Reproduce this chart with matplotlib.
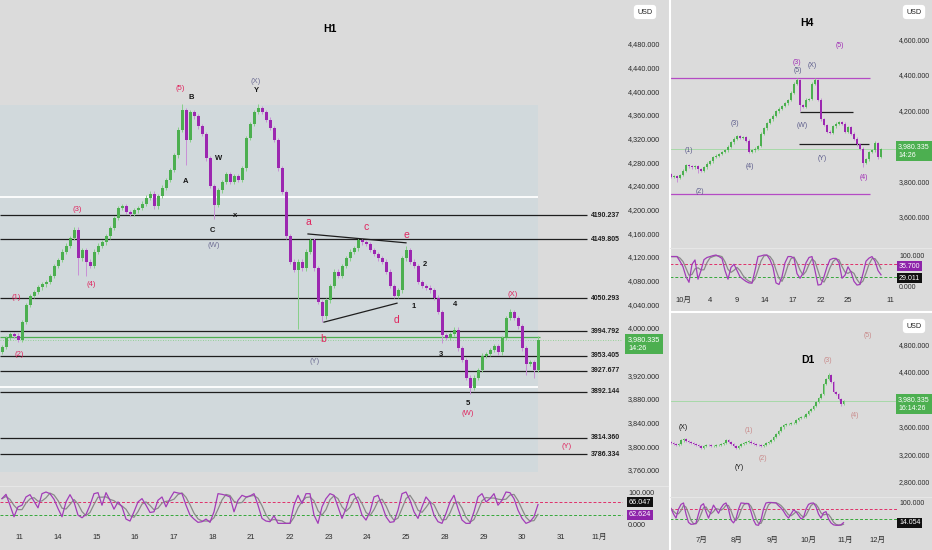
import numpy as np
import pandas as pd
import matplotlib
matplotlib.use("Agg")
import matplotlib.pyplot as plt
from matplotlib.patches import Rectangle

plt.rcParams['font.family'] = ['Liberation Sans', 'Noto Sans CJK JP']

# ---------------- DATA ----------------
# H1 panel (one value per ~2h bar)
h1_close = [3968, 3983, 3990, 3987, 3980, 4010, 4039, 4054, 4061, 4069,
            4074, 4078, 4088, 4105, 4115, 4129, 4139, 4152, 4166, 4118,
            4132, 4112, 4105, 4129, 4139, 4145, 4155, 4169, 4186, 4203,
            4206, 4196, 4193, 4199, 4203, 4210, 4220, 4227, 4206, 4223,
            4237, 4250, 4267, 4292, 4335, 4368, 4318, 4365, 4358, 4341,
            4328, 4287, 4240, 4208, 4233, 4247, 4260, 4247, 4257, 4250,
            4270, 4321, 4345, 4365, 4372, 4365, 4352, 4338, 4318, 4270,
            4230, 4155, 4112, 4098, 4112, 4101, 4129, 4149, 4101, 4044,
            4020, 4047, 4071, 4095, 4088, 4105, 4118, 4129, 4135, 4149,
            4145, 4142, 4132, 4125, 4118, 4112, 4095, 4071, 4054, 4064,
            4118, 4132, 4112, 4105, 4078, 4071, 4068, 4064, 4051, 4027,
            3988, 3983, 3990, 3997, 3966, 3946, 3916, 3899, 3916, 3929,
            3953, 3956, 3963, 3969, 3959, 3983, 4017, 4027, 4017, 4003,
            3966, 3939, 3942, 3929, 3980.335]
h1_first_open = 3960
h1_long_lows = {19: 4090, 21: 4088, 46: 4275, 53: 4184, 74: 3999, 80: 4010,
                110: 3975, 117: 3888, 131: 3920, 133: 3915}
h1_long_highs = {45: 4378, 64: 4378, 101: 4138, 127: 4032, 134: 3987}
h1_k = [80, 93, 60, 25, 55, 60, 85, 92, 72, 52,
        95, 100, 95, 78, 50, 25, 70, 92, 70, 30,
        22, 32, 60, 95, 98, 60, 98, 75, 48, 70,
        55, 18, 12, 40, 70, 80, 60, 38, 40, 75,
        85, 55, 80, 100, 97, 95, 60, 30, 18, 8,
        10, 18, 8, 40, 95, 93, 90, 85, 40, 75,
        90, 85, 88, 95, 60, 20, 12, 10, 28, 5,
        5, 5, 5, 60, 90, 65, 95, 95, 30, 5,
        55, 80, 95, 90, 55, 20, 50, 90, 95, 70,
        30, 15, 40, 85, 90, 60, 25, 8, 10, 45,
        95, 100, 75, 40, 20, 55, 85, 70, 30, 10,
        5, 35, 70, 90, 50, 15, 5, 5, 40, 85,
        95, 70, 80, 95, 60, 75, 100, 98, 80, 45,
        20, 5, 10, 25, 62]
h1_levels = [4190.237, 4149.805, 4050.293, 3994.792, 3953.405,
             3927.677, 3892.144, 3814.360, 3786.334]
h1_white_levels = [4221, 3901]
h1_range_box = [4377, 3757]
h1_support_green = 3984
h1_tri_upper = [[76.5, 101], [4159, 4144]]
h1_tri_lower = [[80.5, 98.75], [4010, 4042]]
h1_day_labels = ['11', '14', '15', '16', '17', '18', '21', '22', '23', '24',
                 '25', '28', '29', '30', '31', '11月']
h1_price_ticks = [3760, 3800, 3840, 3880, 3920, 4000, 4040, 4080, 4120, 4160,
                  4200, 4240, 4280, 4320, 4360, 4400, 4440, 4480]
h1_wave_labels = [  # text, bar, price, colour key, size key
    ('(5)', 44.5, 4404, 'red', 's'), ('B', 47.25, 4390, 'blk', 's'),
    ('(X)', 63.5, 4417, 'gry', 's'), ('Y', 63.5, 4401, 'blk', 's'),
    ('W', 54.25, 4286, 'blk', 's'), ('A', 46, 4247, 'blk', 's'),
    ('x', 58.25, 4191, 'blk', 's'), ('C', 52.5, 4164, 'blk', 's'),
    ('(W)', 53, 4140, 'gry', 's'), ('(3)', 18.75, 4201, 'red', 's'),
    ('(4)', 22.25, 4073, 'red', 's'), ('(1)', 3.5, 4052, 'red', 's'),
    ('(2)', 4.25, 3956, 'red', 's'), ('a', 76.5, 4179, 'red', 'l'),
    ('b', 80.25, 3981, 'red', 'l'), ('(Y)', 78.25, 3944, 'gry', 's'),
    ('c', 91, 4171, 'red', 'l'), ('d', 98.5, 4014, 'red', 'l'),
    ('e', 101, 4157, 'red', 'l'), ('2', 105.75, 4107, 'blk', 's'),
    ('1', 103, 4037, 'blk', 's'), ('4', 113.25, 4039, 'blk', 's'),
    ('3', 109.75, 3956, 'blk', 's'), ('5', 116.5, 3872, 'blk', 's'),
    ('(W)', 116.5, 3856, 'red', 's'), ('(X)', 127.75, 4056, 'red', 's'),
    ('(Y)', 141.25, 3799, 'red', 's')]

# H4 panel
h4_close = [3825, 3830, 3822, 3837, 3860, 3893, 3885, 3880, 3886, 3870,
            3860, 3880, 3900, 3915, 3938, 3945, 3955, 3966, 3975, 3995,
            4020, 4040, 4056, 4045, 4050, 4030, 3966, 3977, 3985, 4000,
            4070, 4100, 4130, 4150, 4170, 4195, 4210, 4225, 4240, 4259,
            4300, 4350, 4372, 4230, 4220, 4260, 4265, 4350, 4370, 4260,
            4150, 4118, 4080, 4073, 4110, 4125, 4135, 4125, 4080, 4105,
            4070, 4040, 4010, 3985, 3905, 3925, 3966, 3975, 4017, 3940,
            3980.335]
h4_first_open = 3840
h4_long_lows = {2: 3800, 9: 3850, 43: 4200, 64: 3880, 69: 3925}
h4_long_highs = {42: 4385, 48: 4385, 68: 4030}
h4_k = [95, 95, 95, 80, 62, 30, 12, 70, 84, 22,
        50, 85, 92, 95, 98, 100, 95, 89, 50, 22,
        60, 70, 50, 30, 22, 15, 10, 9, 50, 95,
        97, 100, 100, 85, 60, 10, 5, 30, 75, 95,
        95, 90, 40, 25, 41, 75, 92, 95, 50, 3,
        5, 30, 62, 85, 89, 89, 75, 25, 35, 62,
        45, 15, 3, 5, 40, 80, 90, 95, 80, 50,
        36]
h4_magenta_levels = [4383, 3730]
h4_black_segments = [[43, 60.7, 4192], [42.7, 66, 4011]]
h4_day_labels = ['10月', '4', '9', '14', '17', '22', '25', '11']
h4_price_ticks = [3600, 3800, 4200, 4400, 4600]
h4_wave_labels = [
    ('(1)', 6, 3972, 'h4g'), ('(2)', 9.67, 3746, 'h4g'), ('(3)', 21.3, 4124, 'h4g'),
    ('(4)', 26.3, 3882, 'h4g'), ('(5)', 42.3, 4423, 'h4g'), ('(3)', 42, 4468, 'pur'),
    ('(X)', 47, 4451, 'h4g'), ('(W)', 43.7, 4118, 'h4g'), ('(Y)', 50.3, 3932, 'h4g'),
    ('(4)', 64.3, 3820, 'pur'), ('(5)', 56.3, 4569, 'pur')]

# D1 panel
d1_close = [3360, 3345, 3335, 3350, 3400, 3420, 3390, 3375, 3365, 3350,
            3340, 3320, 3295, 3315, 3335, 3330, 3320, 3325, 3335, 3340,
            3345, 3370, 3405, 3380, 3345, 3320, 3295, 3320, 3355, 3370,
            3380, 3385, 3370, 3345, 3335, 3330, 3325, 3340, 3360, 3380,
            3410, 3445, 3500, 3540, 3590, 3630, 3640, 3645, 3650, 3660,
            3700, 3730, 3740, 3750, 3780, 3830, 3860, 3900, 3960, 4020,
            4080, 4220, 4300, 4350, 4250, 4110, 4075, 4000, 3930, 3980.335]
d1_first_open = 3380
d1_long_highs = {63: 4380, 64: 4375}
d1_long_lows = {68: 3900}
d1_k = [73, 50, 33, 70, 90, 96, 50, 15, 7, 8,
        12, 50, 85, 93, 60, 33, 60, 87, 70, 53,
        75, 90, 96, 70, 25, 13, 30, 70, 96, 95,
        93, 93, 60, 25, 5, 3, 25, 70, 96, 98,
        98, 97, 96, 85, 75, 62, 45, 33, 50, 67,
        60, 45, 30, 35, 70, 90, 95, 96, 80, 50,
        33, 55, 60, 30, 13, 5, 3, 3, 5, 14]
d1_month_labels = ['7月', '8月', '9月', '10月', '11月', '12月']
d1_price_ticks = [2800, 3200, 3600, 4400, 4800]
d1_wave_labels = [
    ('(X)', 4.8, 3597, 'blk'), ('(Y)', 27.2, 3013, 'blk'), ('(1)', 31.2, 3539, 'pale'),
    ('(2)', 36.8, 3144, 'pale'), ('(3)', 62.8, 4575, 'pale'), ('(4)', 73.6, 3772, 'pale'),
    ('(5)', 78.8, 4940, 'pale')]

osc_levels = [70, 30]

# ---------------- STYLE / LAYOUT ----------------
W, H = 932, 550
BG = '#dbdbdb'
GREEN = '#4caf50'
PURPLE = '#9c27b0'
COL = {'red': '#e0245e', 'blk': '#151515', 'gry': '#6f6f95', 'h4g': '#5d5d8c',
       'pur': '#a02bb5', 'pale': '#c98a8a'}
TICKC = '#2b2b2b'

fig = plt.figure(figsize=(W / 100, H / 100), dpi=100)
fig.patch.set_facecolor(BG)


def rect(x0, y0, x1, y1):
    return [x0 / W, 1 - y1 / H, (x1 - x0) / W, (y1 - y0) / H]


def ftext(x, y, s, **kw):
    return fig.text(x / W, 1 - y / H, s, **kw)


def style(ax):
    ax.set_facecolor('none')
    for s in ax.spines.values():
        s.set_visible(False)
    ax.set_xticks([])


def price_axis(ax, ticks, pad, size=5):
    ax.yaxis.tick_right()
    ax.set_yticks(ticks)
    ax.set_yticklabels([f"{t:,.3f}" for t in ticks])
    ax.tick_params(axis='y', length=0, pad=pad, labelsize=size, labelcolor=TICKC)


def candles(ax, closes, first_open, pad, width, lows=None, highs=None, minh=1.0):
    c = np.asarray(closes, float)
    o = np.concatenate([[first_open], c[:-1]])
    x = np.arange(len(c))
    hi = np.maximum(o, c) + pad
    lo = np.minimum(o, c) - pad
    for k, v in (lows or {}).items():
        lo[k] = v
    for k, v in (highs or {}).items():
        hi[k] = v
    up = c >= o
    body_col = np.where(up, GREEN, PURPLE)
    wick_col = np.where(up, '#86cf88', '#c88fd6')
    ax.vlines(x, lo, hi, colors=wick_col, lw=0.7, zorder=3)
    ax.bar(x, np.maximum(np.abs(c - o), minh), bottom=np.minimum(o, c), width=width,
           color=body_col, linewidth=0, zorder=4)


def oscillator(ax, k, lw=0.9):
    ks = pd.Series(k, dtype=float)
    d = ks.rolling(3, min_periods=1).mean()
    x = np.arange(len(k))
    ax.plot(x, d, color='#8a8a8a', lw=lw, zorder=3)
    ax.plot(x, ks, color='#a23cb8', lw=lw, zorder=4)
    ax.axhline(osc_levels[0], color='#e0306a', lw=0.7, ls=(0, (3, 2)), zorder=2)
    ax.axhline(osc_levels[1], color='#35a83a', lw=0.7, ls=(0, (3, 2)), zorder=2)
    ax.set_yticks([0, 100])
    ax.yaxis.tick_right()


# ---------------- H1 MAIN ----------------
ax = fig.add_axes(rect(0, 0, 623, 484))
style(ax)
ax.set_xlim(-0.5, 155.25)
ax.set_ylim(3736.4, 4554.4)
price_axis(ax, h1_price_ticks, 3.6, 5.2)
ax.add_patch(Rectangle((-0.5, h1_range_box[1]), 134.5, h1_range_box[0] - h1_range_box[1],
                       facecolor='#d1d9dc', edgecolor='none', zorder=0))
ax.hlines(h1_white_levels, -0.5, 134, color='white', lw=1.3, zorder=1)
ax.hlines(h1_levels, -0.5, 146.25, color='#1e1e1e', lw=0.9, zorder=2)
for lv in h1_levels:
    ax.text(147.25, lv, f"{lv:.3f}", fontsize=5, color='#1e1e1e', va='center',
            ha='left', fontweight='bold', zorder=5)
ax.hlines(h1_support_green, -0.5, 134.5, color=GREEN, lw=0.9, zorder=2)
ax.hlines(h1_close[-1], -0.5, 155.25, color='#7fcf82', lw=0.6, ls=(0, (1, 2)), zorder=2)
ax.plot(*h1_tri_upper, color='#1e1e1e', lw=0.9, zorder=5)
ax.plot(*h1_tri_lower, color='#1e1e1e', lw=0.9, zorder=5)
candles(ax, h1_close, h1_first_open, 4, 0.75, h1_long_lows, h1_long_highs, 1.5)
for t, bx, py, ck, sk in h1_wave_labels:
    ax.text(bx, py, t, color=COL[ck], fontsize=7.5 if sk == 'l' else 5.5,
            ha='center', va='center', zorder=6,
            fontweight='bold' if ck == 'blk' else 'normal')

axo = fig.add_axes(rect(0, 487, 623, 528))
style(axo)
axo.set_xlim(-0.5, 155.25)
axo.set_ylim(-9.1, 115.2)
oscillator(axo, h1_k)
axo.set_yticklabels(['0.000', '100.000'])
axo.tick_params(axis='y', length=0, pad=3.6, labelsize=5.2, labelcolor=TICKC)
axo.set_xticks(4.25 + 9.675 * np.arange(len(h1_day_labels)))
axo.set_xticklabels(h1_day_labels)
axo.tick_params(axis='x', length=0, pad=4, labelsize=5.5, labelcolor=TICKC)

ftext(330, 29, 'H1', fontsize=7.5, fontweight='bold', ha='center', va='center')
ftext(645, 12, 'USD', fontsize=5.2, ha='center', va='center', color='#222',
      bbox=dict(boxstyle='round,pad=0.5', fc='white', ec='none'))
ftext(628, 344, '3,980.335\n14:26', fontsize=5.2, ha='left', va='center', color='white',
      linespacing=1.3, bbox=dict(boxstyle='square,pad=0.35', fc=GREEN, ec='none'))
ftext(629, 502, '66.047', fontsize=5.2, ha='left', va='center', color='white',
      bbox=dict(boxstyle='square,pad=0.25', fc='#111', ec='none'))
ftext(629, 515, '62.624', fontsize=5.2, ha='left', va='center', color='white',
      bbox=dict(boxstyle='square,pad=0.25', fc='#8e24aa', ec='none'))

# ---------------- H4 ----------------
a4 = fig.add_axes(rect(670, 0, 897, 247))
style(a4)
a4.set_xlim(-0.333, 75.33)
a4.set_ylim(3431, 4822.6)
price_axis(a4, h4_price_ticks, 1.5)
a4.hlines(h4_magenta_levels, -0.333, 66.3, color='#b44bc4', lw=0.9, zorder=2)
for x0, x1, lv in h4_black_segments:
    a4.hlines(lv, x0, x1, color='#1e1e1e', lw=0.9, zorder=2)
a4.hlines(h4_close[-1], -0.333, 75.33, color='#9fd8a0', lw=0.6, zorder=1)
candles(a4, h4_close, h4_first_open, 8, 0.7, h4_long_lows, h4_long_highs, 3)
for t, bx, py, ck in h4_wave_labels:
    a4.text(bx, py, t, color=COL[ck], fontsize=5, ha='center', va='center', zorder=6)

a4o = fig.add_axes(rect(670, 249, 897, 290))
style(a4o)
a4o.set_xlim(-0.333, 75.33)
a4o.set_ylim(-12.9, 119.4)
oscillator(a4o, h4_k)
a4o.set_yticklabels(['0.000', '100.000'])
a4o.tick_params(axis='y', length=0, pad=1.5, labelsize=5, labelcolor=TICKC)
a4o.set_xticks([(p - 671) / 3 for p in (683, 710, 737, 765, 793, 821, 848, 890)])
a4o.set_xticklabels(h4_day_labels)
a4o.tick_params(axis='x', length=0, pad=5, labelsize=5.5, labelcolor=TICKC)

ftext(807, 23, 'H4', fontsize=7.5, fontweight='bold', ha='center', va='center')
ftext(914, 12, 'USD', fontsize=5.2, ha='center', va='center', color='#222',
      bbox=dict(boxstyle='round,pad=0.5', fc='white', ec='none'))
ftext(898, 151, '3,980.335\n14:26', fontsize=5, ha='left', va='center', color='white',
      linespacing=1.3, bbox=dict(boxstyle='square,pad=0.35', fc=GREEN, ec='none'))
ftext(899, 266, '35.700', fontsize=5, ha='left', va='center', color='white',
      bbox=dict(boxstyle='square,pad=0.25', fc='#8e24aa', ec='none'))
ftext(899, 278, '29.011', fontsize=5, ha='left', va='center', color='white',
      bbox=dict(boxstyle='square,pad=0.25', fc='#111', ec='none'))

# ---------------- D1 ----------------
a1 = fig.add_axes(rect(670, 314, 897, 497))
style(a1)
a1.set_xlim(-0.4, 90.4)
a1.set_ylim(2575, 5247)
price_axis(a1, d1_price_ticks, 1.5)
a1.hlines(d1_close[-1], -0.4, 90.4, color='#9fd8a0', lw=0.6, zorder=1)
candles(a1, d1_close, d1_first_open, 15, 0.7, d1_long_lows, d1_long_highs, 6)
for t, bx, py, ck in d1_wave_labels:
    a1.text(bx, py, t, color=COL[ck], fontsize=5, ha='center', va='center', zorder=6)

a1o = fig.add_axes(rect(670, 498, 897, 531))
style(a1o)
a1o.set_xlim(-0.4, 90.4)
a1o.set_ylim(-20.8, 116.7)
oscillator(a1o, d1_k)
a1o.set_yticks([100])
a1o.set_yticklabels(['100.000'])
a1o.tick_params(axis='y', length=0, pad=1.5, labelsize=5, labelcolor=TICKC)
a1o.set_xticks([(p - 671) / 2.5 for p in (702, 737, 773, 808, 845, 878)])
a1o.set_xticklabels(d1_month_labels)
a1o.tick_params(axis='x', length=0, pad=4, labelsize=5.5, labelcolor=TICKC)

ftext(808, 360, 'D1', fontsize=7.5, fontweight='bold', ha='center', va='center')
ftext(914, 326, 'USD', fontsize=5.2, ha='center', va='center', color='#222',
      bbox=dict(boxstyle='round,pad=0.5', fc='white', ec='none'))
ftext(898, 404, '3,980.335\n16:14:26', fontsize=5, ha='left', va='center', color='white',
      linespacing=1.3, bbox=dict(boxstyle='square,pad=0.35', fc=GREEN, ec='none'))
ftext(899, 523, '14.054', fontsize=5, ha='left', va='center', color='white',
      bbox=dict(boxstyle='square,pad=0.25', fc='#111', ec='none'))

# ---------------- separators ----------------
fig.add_artist(plt.Line2D([669.5 / W, 669.5 / W], [0, 1], color='white', lw=1.5))
fig.add_artist(plt.Line2D([670 / W, 1], [1 - 312 / H, 1 - 312 / H], color='white', lw=1.5))
fig.add_artist(plt.Line2D([0, 668 / W], [1 - 486 / H, 1 - 486 / H], color='#e6e6e6', lw=0.8))
fig.add_artist(plt.Line2D([670 / W, 1], [1 - 248 / H, 1 - 248 / H], color='#e6e6e6', lw=0.8))
fig.add_artist(plt.Line2D([670 / W, 1], [1 - 497 / H, 1 - 497 / H], color='#e6e6e6', lw=0.8))

fig.savefig('out.png', dpi=100, facecolor=BG)
